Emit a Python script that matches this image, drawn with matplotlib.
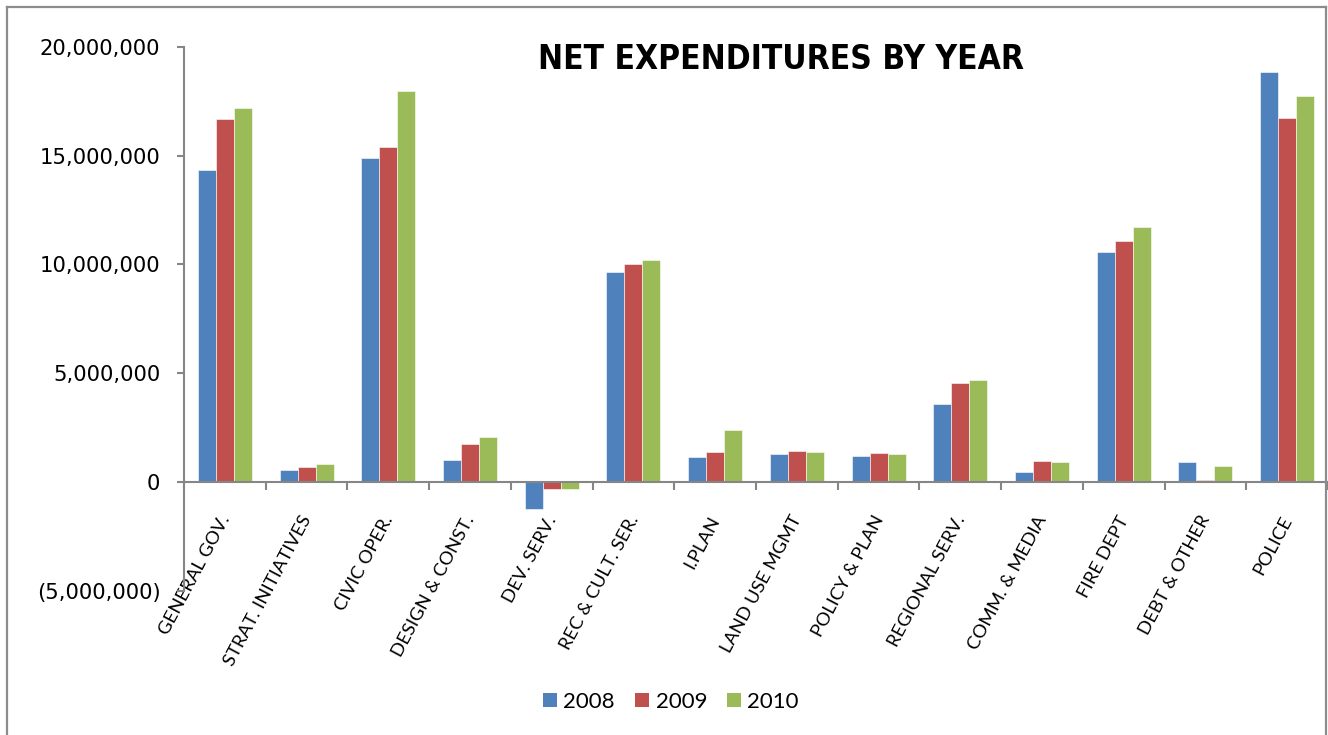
import matplotlib
matplotlib.use("Agg")
import matplotlib.pyplot as plt
import matplotlib.transforms as mtransforms
from matplotlib.patches import Patch
from matplotlib.ticker import FuncFormatter, FixedLocator
import numpy as np

categories = [
    "GENERAL GOV.", "STRAT. INITIATIVES", "CIVIC OPER.", "DESIGN & CONST.",
    "DEV. SERV.", "REC & CULT. SER.", "I.PLAN", "LAND USE MGMT",
    "POLICY & PLAN", "REGIONAL SERV.", "COMM. & MEDIA", "FIRE DEPT",
    "DEBT & OTHER", "POLICE",
]
years = ["2008", "2009", "2010"]
values_2008 = [14330000, 520000, 14880000, 980000, -1270000, 9640000, 1120000,
               1270000, 1200000, 3590000, 460000, 10570000, 890000, 18850000]
values_2009 = [16690000, 680000, 15390000, 1750000, -350000, 10040000, 1380000,
               1400000, 1320000, 4540000, 950000, 11080000, 80000, 16720000]
values_2010 = [17210000, 830000, 17960000, 2040000, -350000, 10180000, 2380000,
               1370000, 1270000, 4690000, 920000, 11710000, 720000, 17730000]
y_ticks = [-5000000, 0, 5000000, 10000000, 15000000, 20000000]

colors = ["#4F81BD", "#C0504D", "#9BBB59"]
axis_gray = "#868686"

W, H = 1328, 735
fig = plt.figure(figsize=(W / 100, H / 100), dpi=100)
fig.patch.set_facecolor("white")

# chart frame
frame_kw = dict(color="#8c8c8c", lw=1.6, transform=fig.transFigure, clip_on=False)
fig.add_artist(plt.Line2D([7 / W, 7 / W], [0, 1 - 7 / H], **frame_kw))
fig.add_artist(plt.Line2D([7 / W, 1326 / W], [1 - 7 / H, 1 - 7 / H], **frame_kw))
fig.add_artist(plt.Line2D([1326 / W, 1326 / W], [0, 1 - 7 / H], **frame_kw))

left, right, top, bottom = 184, 1328, 47, 590.5
ax = fig.add_axes([left / W, 1 - bottom / H, (right - left) / W, (bottom - top) / H])

n = len(categories)
x = np.arange(n)
bw = 0.22
series = [values_2008, values_2009, values_2010]
for k, (vals, c) in enumerate(zip(series, colors)):
    ax.bar(x + (k - 1) * bw, vals, width=bw, color=c, edgecolor="white",
           linewidth=0.4, zorder=2)

ax.set_xlim(-0.5, n - 0.5)
ax.set_ylim(-5000000, 20000000)

ax.spines["top"].set_visible(False)
ax.spines["right"].set_visible(False)
ax.spines["bottom"].set_position(("data", 0))
for s in ("left", "bottom"):
    ax.spines[s].set_color(axis_gray)
    ax.spines[s].set_linewidth(1.5)
    ax.spines[s].set_zorder(3)

ax.yaxis.set_major_locator(FixedLocator(y_ticks))
ax.yaxis.set_major_formatter(FuncFormatter(
    lambda v, p: "0" if v == 0 else (f"({abs(v):,.0f})" if v < 0 else f"{v:,.0f}")))
ax.tick_params(axis="y", direction="out", length=5, width=1.5, color=axis_gray,
               pad=12, labelsize=15.2, labelcolor="black")
for t in ax.get_yticklabels():
    t.set_fontfamily("DejaVu Sans")

ax.set_xticks(x)
ax.set_xticks(np.arange(n + 1) - 0.5, minor=True)
ax.tick_params(axis="x", which="major", length=0, pad=22.5)
ax.tick_params(axis="x", which="minor", direction="out", length=6, width=1.5,
               color=axis_gray)
ax.set_xticklabels(categories, rotation=62, ha="right", rotation_mode="default",
                   fontsize=13.3, fontfamily="Lato", color="black")
shift = mtransforms.ScaledTranslation(8 / 100, 0, fig.dpi_scale_trans)
for t in ax.get_xticklabels():
    t.set_transform(t.get_transform() + shift)

fig.text(781 / W, 1 - 69.3 / H, "NET EXPENDITURES BY YEAR", ha="center",
         va="baseline", fontsize=24, fontweight="bold", fontfamily="DejaVu Sans",
         fontstretch="condensed", color="black")

handles = [Patch(facecolor=c, edgecolor="none") for c in colors]
fig.legend(handles, years, loc="center", bbox_to_anchor=(671 / W, 1 - 702 / H),
           ncol=3, frameon=False, prop={"family": "Lato", "size": 16},
           handlelength=0.62, handleheight=0.62, handletextpad=0.3,
           columnspacing=0.9)

fig.savefig("out.png", dpi=100, facecolor="white")
